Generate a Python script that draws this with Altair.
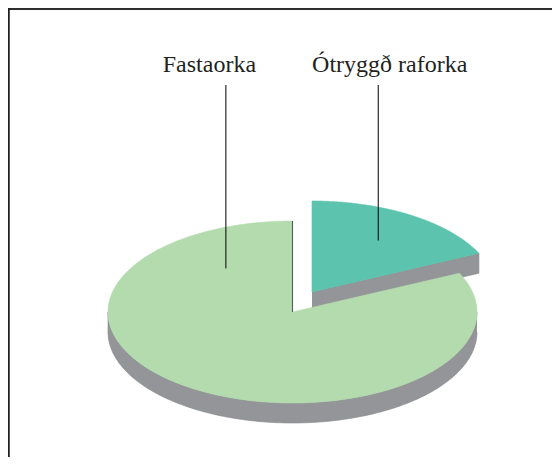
import numpy as np
import pandas as pd
import altair as alt

# ---- data ----
categories = ["Ótryggð raforka", "Fastaorka"]
shares = [18, 82]

# ---- layout / style constants ----
W, H = 544, 449
CX, CY = 284.5, 304.0      # centre of the pie's top face (chart px)
RX, RY = 184.5, 91.0       # ellipse radii of the tilted pie
DEPTH = 20.0               # thickness of the pie
EXPLODE = {"Ótryggð raforka": (19.5, -20.0), "Fastaorka": (0.0, 0.0)}
LABEL_ANCHOR = {"Ótryggð raforka": (None, 0.67), "Fastaorka": (np.radians(323), 0.60)}
LABEL_DX = {"Ótryggð raforka": 11.5, "Fastaorka": -16.5}
LABEL_BASELINE_Y = 64
LEADER_TOP_Y = 77
TOP_COLORS = {"Ótryggð raforka": "#5cc3ae", "Fastaorka": "#b3dbae"}
SIDE_COLOR = "#949599"
SIDE_STROKE = "#88898c"
TEXT_COLOR = "#231f20"
FONT = "Liberation Serif"

total = float(sum(shares))
fr = np.array(shares) / total
ends = np.cumsum(fr) * 2 * np.pi
starts = ends - fr * 2 * np.pi


def arc(ax, ay, a_from, a_to, n=160, dy=0.0):
    return [(ax + RX * np.sin(a), ay - RY * np.cos(a) + dy) for a in np.linspace(a_from, a_to, n)]


poly_rows = []
label_rows = []
pid = 0


def add_poly(cat, part, pts):
    global pid
    for k, (x, y) in enumerate(pts):
        poly_rows.append({"cat": cat, "part": part, "pid": pid, "k": k, "x": x, "y": y})
    pid += 1


for cat, a0, a1 in zip(categories, starts, ends):
    ox, oy = EXPLODE[cat]
    ax, ay = CX + ox, CY + oy
    # visible outer rim (front half)
    b0, b1 = max(a0, np.pi / 2), min(a1, 3 * np.pi / 2)
    if b1 > b0:
        add_poly(cat, "side", arc(ax, ay, b0, b1) + arc(ax, ay, b1, b0, dy=DEPTH))
    # visible radial cut faces
    for a, vis in ((a0, np.sin(a0) < -1e-9), (a1, np.sin(a1) > 1e-9)):
        if vis:
            px, py = ax + RX * np.sin(a), ay - RY * np.cos(a)
            add_poly(cat, "side", [(ax, ay), (px, py), (px, py + DEPTH), (ax, ay + DEPTH)])
    # edge-on face seen as a thin dark line
    if a1 > 0 and abs(np.sin(a1)) < 1e-9:
        add_poly(cat, "edge", [(ax, ay), (ax + RX * np.sin(a1), ay - RY * np.cos(a1))])
    # top face
    add_poly(cat, "top", [(ax, ay)] + arc(ax, ay, a0, a1) + [(ax, ay)])
    # label anchor
    ang, r = LABEL_ANCHOR[cat]
    if ang is None:
        ang = (a0 + a1) / 2
    lx, ly = ax + r * RX * np.sin(ang), ay - r * RY * np.cos(ang)
    label_rows.append({"cat": cat, "x": lx, "x_text": lx + LABEL_DX[cat], "y_anchor": ly,
                       "y_top": LEADER_TOP_Y, "y_text": LABEL_BASELINE_Y})

polys = pd.DataFrame(poly_rows)
labels = pd.DataFrame(label_rows)

xs = alt.Scale(domain=[0, W], nice=False, zero=False)
ys = alt.Scale(domain=[0, H], reverse=True, nice=False, zero=False)
X = alt.X("x:Q", scale=xs, axis=None)
Y = alt.Y("y:Q", scale=ys, axis=None)

base = alt.Chart(polys)
layers = []
for cat in categories:
    layers.append(
        base.transform_filter((alt.datum.cat == cat) & (alt.datum.part == "side"))
        .mark_line(fill=SIDE_COLOR, stroke=SIDE_STROKE, strokeWidth=0.6, interpolate="linear")
        .encode(x=X, y=Y, detail="pid:N", order="k:Q")
    )
    layers.append(
        base.transform_filter((alt.datum.cat == cat) & (alt.datum.part == "top"))
        .mark_line(fill=TOP_COLORS[cat], stroke=TOP_COLORS[cat], strokeWidth=0.6, interpolate="linear")
        .encode(x=X, y=Y, detail="pid:N", order="k:Q")
    )
    layers.append(
        base.transform_filter((alt.datum.cat == cat) & (alt.datum.part == "edge"))
        .mark_line(stroke="#58595b", strokeWidth=1.1)
        .encode(x=X, y=Y, detail="pid:N", order="k:Q")
    )

lab = alt.Chart(labels)
leaders = lab.mark_rule(color="#000000", strokeWidth=1).encode(
    x=alt.X("x:Q", scale=xs, axis=None),
    y=alt.Y("y_top:Q", scale=ys, axis=None),
    y2="y_anchor:Q",
)
texts = lab.mark_text(font=FONT, fontSize=24, color=TEXT_COLOR, align="center", baseline="alphabetic").encode(
    x=alt.X("x_text:Q", scale=xs, axis=None),
    y=alt.Y("y_text:Q", scale=ys, axis=None),
    text="cat:N",
)

frame_top = alt.Chart(labels).mark_rule(color="#231f20", strokeWidth=1.5).encode(
    x=alt.value(0), x2=alt.value(W), y=alt.value(1)
)
frame_left = alt.Chart(labels).mark_rule(color="#231f20", strokeWidth=1.5).encode(
    x=alt.value(0.75), y=alt.value(0), y2=alt.value(H)
)

chart = alt.layer(*layers, leaders, texts, frame_top, frame_left).properties(
    width=W, height=H, padding=0, autosize=alt.AutoSizeParams(type="none")
).configure_view(stroke=None)

chart.save("out.html", embed_options={"renderer": "svg", "actions": False})
